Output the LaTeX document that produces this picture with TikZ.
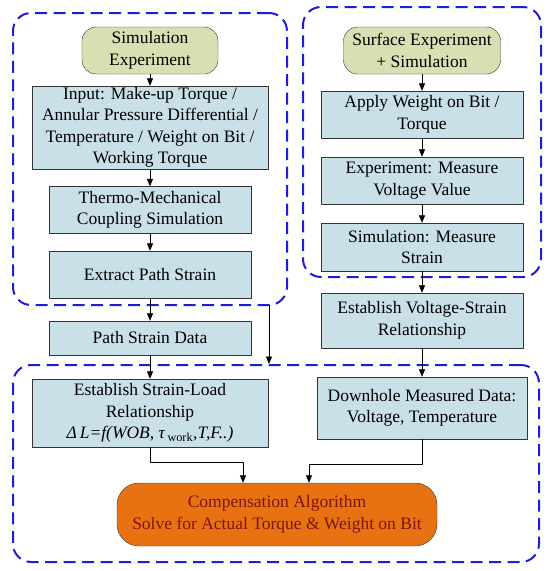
\documentclass[tikz,border=0pt]{standalone}
\usepackage{fontspec}
\setmainfont{Liberation Serif}
\usetikzlibrary{arrows.meta,calc}
\definecolor{flowgreen}{RGB}{214,224,178}
\definecolor{flowblue}{RGB}{202,224,233}
\definecolor{floworange}{RGB}{232,114,18}
\definecolor{flowred}{RGB}{125,20,15}
\definecolor{groupblue}{RGB}{30,30,215}

\begin{document}
\begin{tikzpicture}[x=1pt,y=-1pt,>={Triangle[length=7.5pt,width=6pt]},
                     line join=round,font=\fontsize{17.5}{21.5}\selectfont,
    box/.style={draw=black!80,fill=flowblue,align=center,inner sep=0pt,
                minimum width=202pt,minimum height=47pt},
    startbox/.style={box,fill=flowgreen,rounded corners=14pt},
    group/.style={draw=groupblue,line width=2pt,
                  dash pattern=on 12pt off 6.5pt,rounded corners=18pt},
    flow/.style={->,black,line width=.8pt}]
  \useasboundingbox (0,0) rectangle (550,571);
  % Trzy obszary zaznaczone przerywaną linią.
  \node[group,minimum width=274pt,minimum height=292pt] (grpsim)
       at (150,159) {};
  \node[group,minimum width=238pt,minimum height=270pt] (grpsurf)
       at (422,142) {};
  \node[group,minimum width=526pt,minimum height=197pt] (grpload)
       at (276,463.5) {};
  % Lewa kolumna: symulacja.
  \node[startbox,minimum width=136pt] (simexp) at (150,50.5)
       {Simulation\\Experiment};
  \node[box,minimum width=236pt,minimum height=83pt] (input)
       at (150,127.5)
       {Input: Make-up Torque /\\Annular Pressure Differential /\\
        Temperature / Weight on Bit /\\Working Torque};
  \node[box] (thermo) at (150,210)
       {Thermo-Mechanical\\Coupling Simulation};
  \node[box] (extract) at (150,274.5) {Extract Path Strain};
  \node[box,minimum height=34pt] (pathdata) at (150,338)
       {Path Strain Data};
  \node[box,minimum width=236pt,minimum height=68pt] (strainload)
       at (150,413)
       {Establish Strain-Load\\Relationship\\
        \textit{Δ\,L=f(WOB,~τ}\textsubscript{\,work}\textit{,T,F..)}};
  % Prawa kolumna: eksperyment powierzchniowy.
  \node[startbox,minimum width=157pt] (surfexp) at (422,50.5)
       {Surface Experiment\\+ Simulation};
  \node[box] (applywob) at (422,114.5) {Apply Weight on Bit /\\Torque};
  \node[box] (measvolt) at (422,180.5)
       {Experiment: Measure\\Voltage Value};
  \node[box,minimum height=48pt] (measstrain) at (422,247)
       {Simulation: Measure\\Strain};
  \node[box,minimum height=55pt] (voltstrain) at (422,320.5)
       {Establish Voltage-Strain\\Relationship};
  \node[box,minimum width=210pt,minimum height=62pt] (downhole)
       at (422,408) {Downhole Measured Data:\\Voltage, Temperature};
  % Algorytm kompensacji.
  \node[box,fill=floworange,text=flowred,rounded corners=22pt,
        minimum width=320pt,minimum height=63pt] (comp) at (277,514.5)
       {Compensation Algorithm\\Solve for Actual Torque \& Weight on Bit};

  \draw[flow] (simexp) -- (input);
  \draw[flow] (input) -- (thermo);
  \draw[flow] (thermo) -- (extract);
  \draw[flow] (extract) -- (pathdata);
  \draw[flow] (pathdata) -- (strainload);
  \draw[flow] (surfexp) -- (applywob);
  \draw[flow] (applywob) -- (measvolt);
  \draw[flow] (measvolt) -- (measstrain);
  \draw[flow] (measstrain) -- (voltstrain);
  \draw[flow] (voltstrain) -- (downhole);
  \coordinate (simout) at (269,305);
  \draw[flow] (simout) -- (simout |- grpload.north);
  \draw[flow] (strainload.south) -- ++(0,15)
       -| ([xshift=-34pt]comp.north);
  \draw[flow] (downhole.south) -- ++(0,25)
       -| ([xshift=32pt]comp.north);
\end{tikzpicture}
\end{document}
